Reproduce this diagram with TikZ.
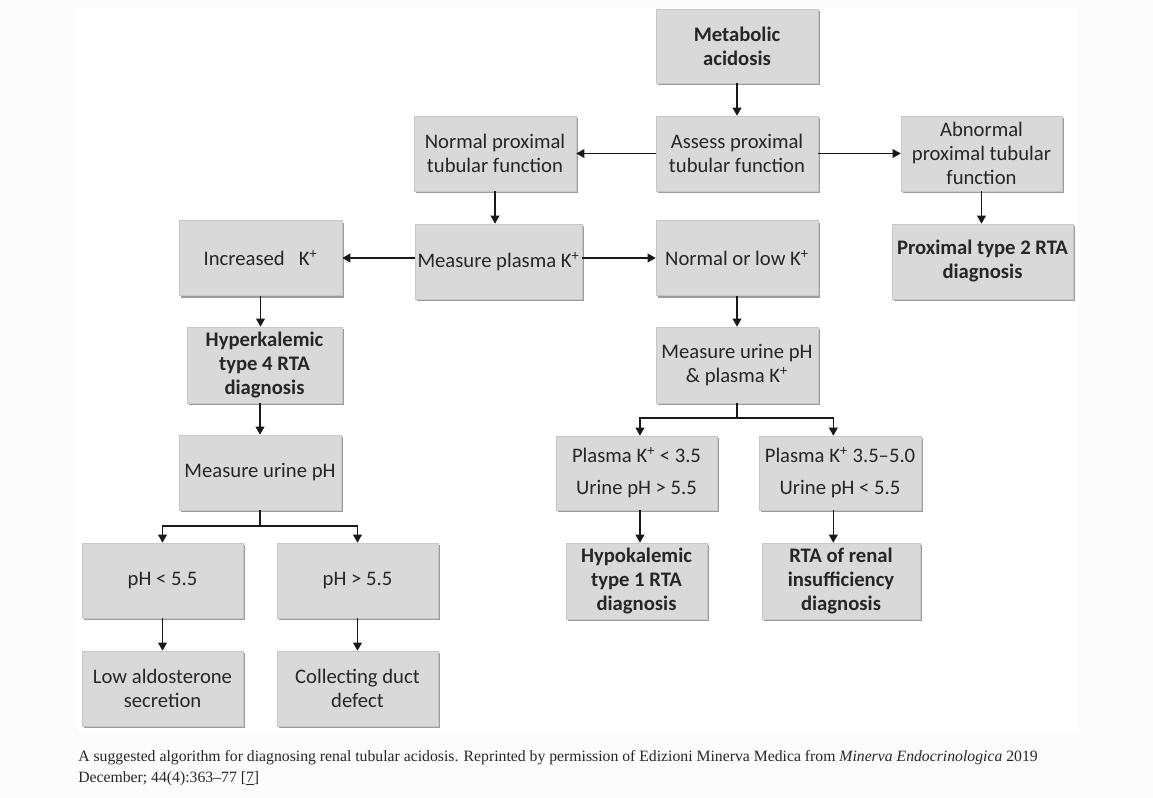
\documentclass[tikz,border=0pt]{standalone}
\usepackage{fontspec}
\setmainfont{Carlito}
\newfontfamily\capfont{Liberation Serif}
\usetikzlibrary{arrows.meta,shadows}
\definecolor{boxfill}{HTML}{D9D9D9}
\definecolor{txt}{HTML}{262626}
\definecolor{pagebg}{HTML}{FCFCFC}
\newcommand{\Kp}{K\textsuperscript{+}}
\tikzset{
  box/.style={draw=black!22, line width=0.4pt, fill=boxfill, text=txt, align=center, inner sep=0pt,
    font=\fontsize{15.5}{18}\selectfont,
    drop shadow={shadow xshift=1.6pt, shadow yshift=-1.6pt, fill=black!55, opacity=0.7}},
  bbox/.style={box, font=\fontsize{15.5}{18}\selectfont\bfseries},
  sz/.style 2 args={minimum width=#1*0.75pt, minimum height=#2*0.75pt},
  arr/.style={-{Triangle[length=6pt,width=6.5pt]}, line width=1pt, draw=black!90},
  ln/.style={line width=1pt, draw=black!90},
  captext/.style={anchor=base west, inner sep=0pt, font=\capfont\fontsize{11.8}{14}\selectfont, text=black!85}
}
\begin{document}
\begin{tikzpicture}[x=0.75pt,y=-0.75pt]
\fill[pagebg] (0,0) rectangle (1153,798);
\fill[white] (78,8) rectangle (1077,732);
\useasboundingbox (0,0) rectangle (1153,798);

\node[bbox, sz={162}{74}] (meta) at (737,46) {Metabolic\\acidosis};
\node[box, sz={162}{75}] (assess) at (737,153.5) {Assess proximal\\tubular function};
\node[box, sz={162}{75}] (normprox) at (495,153.5) {Normal proximal\\tubular function};
\node[box, sz={161}{75}] (abn) at (981.5,153.5) {Abnormal\\proximal tubular\\function};
\node[bbox, sz={181}{75}] (prox2) at (982.5,261.5) {Proximal type 2 RTA\\diagnosis};
\node[box, sz={167}{75}] (mplasma) at (498.5,261.5) {Measure plasma \Kp};
\node[box, sz={162}{75}] (normlow) at (737,258) {Normal or low \Kp};
\node[box, sz={163}{75}] (incr) at (260.5,258) {Increased\ \ \ \Kp};
\node[bbox, sz={155}{76}] (hyper) at (264.5,365) {Hyperkalemic\\type 4 RTA\\diagnosis};
\node[box, sz={162}{75}] (murine) at (260,472.5) {Measure urine pH};
\node[box, sz={161}{75}] (ph1) at (162.5,580.5) {pH < 5.5};
\node[box, sz={161}{75}] (ph2) at (357.5,580.5) {pH > 5.5};
\node[box, sz={161}{75}] (lowaldo) at (162.5,688.5) {Low aldosterone\\secretion};
\node[box, sz={161}{75}] (collect) at (357.5,688.5) {Collecting duct\\defect};
\node[box, sz={162}{76}] (murk) at (737,365) {Measure urine pH\\\& plasma \Kp};
\node[box, sz={161}{74}] (pk1) at (636.5,473) {Plasma \Kp{} < 3.5\\[6pt]Urine pH > 5.5};
\node[box, sz={162}{74}] (pk2) at (840,473) {Plasma \Kp{} 3.5–5.0\\[6pt]Urine pH < 5.5};
\node[bbox, sz={141}{76}] (hypo) at (636.5,581) {Hypokalemic\\type 1 RTA\\diagnosis};
\node[bbox, sz={158}{76}] (rtar) at (841,581) {RTA of renal\\insufficiency\\diagnosis};

\draw[arr] (meta) -- (assess);
\draw[arr] (assess) -- (normprox);
\draw[arr] (assess) -- (abn);
\draw[arr] (normprox) -- (normprox.south |- mplasma.north);
\draw[arr] (abn) -- (abn.south |- prox2.north);
\draw[arr] (mplasma.west |- incr) -- (incr.east);
\draw[arr] (mplasma.east |- normlow) -- (normlow.west);
\draw[arr] (incr) -- (incr.south |- hyper.north);
\draw[arr] (murine.north |- hyper.south) -- (murine.north);
\coordinate (j1) at (260,526);
\draw[ln] (murine.south) -- (j1);
\draw[arr] (j1) -| (ph1.north);
\draw[arr] (j1) -| (ph2.north);
\draw[arr] (ph1) -- (lowaldo);
\draw[arr] (ph2) -- (collect);
\draw[arr] (normlow) -- (murk);
\coordinate (j2) at (737,418);
\draw[ln] (murk.south) -- (j2);
\draw[arr] (j2) -| ([xshift=2.6pt]pk1.north);
\draw[arr] (j2) -| ([xshift=-5pt]pk2.north);
\draw[arr] ([xshift=2.6pt]pk1.south) -- ([xshift=2.6pt]pk1.south |- hypo.north);
\draw[arr] ([xshift=-5pt]pk2.south) -- ([xshift=-5pt]pk2.south |- rtar.north);

\node[captext] (cap1) at (78,761)
  {A suggested algorithm for diagnosing renal tubular acidosis. Reprinted by permission of Edizioni Minerva Medica from \textit{Minerva Endocrinologica} 2019};
\node[captext] (cap2) at (78,782)
  {December; 44(4):363–77 [\underline{7}]};
\end{tikzpicture}
\end{document}
